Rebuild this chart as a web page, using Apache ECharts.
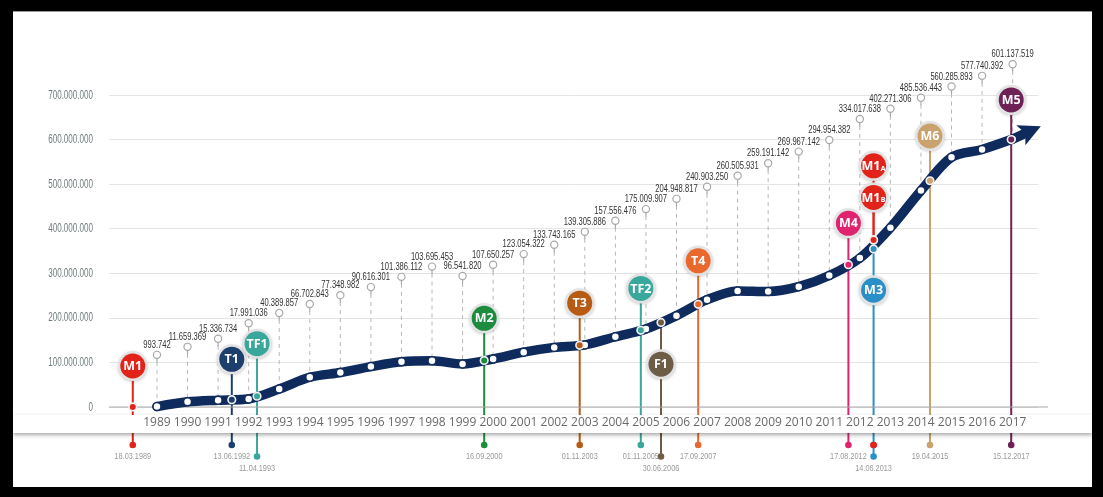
<!DOCTYPE html>
<html>
<head>
<meta charset="utf-8">
<script src="https://cdn.jsdelivr.net/npm/echarts@6/dist/echarts.min.js"></script>
<style>
  html, body { margin: 0; padding: 0; background: #000; }
  #panel { position: absolute; left: 13px; top: 11px; width: 1079px; height: 476px; background: #fff; border-top: 1px solid #9a9a9a; box-sizing: border-box; }
  #chart { position: absolute; left: 0; top: 0; width: 1103px; height: 497px; }
</style>
</head>
<body>
<div id="panel"></div>
<div id="chart"></div>
<script>
// Annual passengers carried, 1989-2017
const years = [1989, 1990, 1991, 1992, 1993, 1994, 1995, 1996, 1997, 1998,
  1999, 2000, 2001, 2002, 2003, 2004, 2005, 2006, 2007, 2008,
  2009, 2010, 2011, 2012, 2013, 2014, 2015, 2016, 2017];
const passengers = [993742, 11659369, 15336734, 17991036, 40389857, 66702843, 77348982, 90616301, 101386112, 103695453,
  96541820, 107650257, 123054322, 133743165, 139305886, 157556476, 175009907, 204948817, 240903250, 260505931,
  259191142, 269967142, 294954382, 334017638, 402271306, 485536443, 560285893, 577740392, 601137519];

// Line openings
const lineCodes = ['M1', 'T1', 'TF1', 'M2', 'T3', 'TF2', 'F1', 'T4', 'M4', 'M1B', 'M1A', 'M3', 'M6', 'M5'];
const openingDates = ['18.03.1989', '13.06.1992', '11.04.1993', '16.09.2000', '01.11.2003', '01.11.2005', '30.06.2006',
  '17.09.2007', '17.08.2012', '14.06.2013', '14.06.2013', '14.06.2013', '19.04.2015', '15.12.2017'];

// Value axis ticks
const yTicks = [0, 100000000, 200000000, 300000000, 400000000, 500000000, 600000000, 700000000];

// Layout: height (millions) of each value tag and of each line badge, and the row of each date under the axis
const tagLevels = [117, 135, 153, 188, 211, 231, 251, 269, 292, 315, 294, 319, 343, 364, 393, 418, 444, 467, 494, 519,
  547, 573, 599, 646, 669, 694, 719, 743, 769];
const badgeLevels = [92, 107, 142, 199, 233, 266, 96, 328, 412, 470, 541, 262, 608, 689];
const dateRows = [0, 0, 1, 0, 0, 0, 1, 0, 0, 0, 0, 1, 0, 0];

// Styles
const NAVY = '#0f2a5c';
const lineColors = ['#e2231a', '#1d3f6e', '#3aa79c', '#1d8c3e', '#b75b14', '#3aa79c', '#6e5d46', '#e8682e',
  '#e0236f', '#e2231a', '#e2231a', '#2a8fc6', '#c9a26e', '#6e2155'];
const SANS = "'Liberation Sans', Arial, sans-serif";

const fmt = v => String(v).replace(/\B(?=(\d{3})+(?!\d))/g, '.');

// Each year's total is plotted at the close of that year
const curve = years.map((y, i) => [y + 1, passengers[i]]);

function dateToT(s) {
  const [d, m, y] = s.split('.').map(Number);
  const start = Date.UTC(y, 0, 1), end = Date.UTC(y + 1, 0, 1);
  return y + (Date.UTC(y, m - 1, d) - start) / (end - start);
}
const openingT = openingDates.map(dateToT);

// Position of a date on the passenger line (straight between yearly totals)
function curveAt(t) {
  const pts = [[years[0], 0]].concat(curve);
  if (t <= pts[0][0]) return 0;
  for (let i = 1; i < pts.length; i++) {
    if (t <= pts[i][0]) {
      const f = (t - pts[i - 1][0]) / (pts[i][0] - pts[i - 1][0]);
      return pts[i - 1][1] + f * (pts[i][1] - pts[i - 1][1]);
    }
  }
  return pts[pts.length - 1][1];
}
const openingOnCurve = openingT.map(curveAt);

const X_MIN = 1988.43, X_MAX = 2018.83;

function eventGeometry(i, api) {
  const t = openingT[i];
  const pc = api.coord([t, openingOnCurve[i]]);
  const pb = api.coord([t, badgeLevels[i] * 1e6]);
  const base = api.coord([t, 0])[1];
  const above = badgeLevels[i] * 1e6 > openingOnCurve[i];
  // openings sharing a date are spread apart on the line
  let shift = 0, shared = false;
  const same = openingDates.map((d, j) => j).filter(j => openingDates[j] === openingDates[i]);
  if (same.length > 1) {
    const sides = same.map(j => badgeLevels[j] * 1e6 > openingOnCurve[j]);
    if (sides.some(s => s) && sides.some(s => !s)) { shift = above ? -4.5 : 4.5; shared = true; }
  }
  const dotY = base + (dateRows[i] ? 49.5 : 38);
  // the date is written once, under the lowest dot of its group
  const rowMax = Math.max.apply(null, same.map(j => dateRows[j]));
  const labelOwner = same.filter(j => dateRows[j] === rowMax)[0];
  return { x: pc[0], yc: pc[1] + shift, yb: pb[1], above, shared, dotY, showDate: labelOwner === i };
}

const chart = echarts.init(document.getElementById('chart'));

chart.setOption({
  animation: false,
  grid: { left: 109, right: 65, top: 95, bottom: 90, outerBoundsMode: 'none' },
  xAxis: {
    type: 'value', min: X_MIN, max: X_MAX, z: 6,
    axisLine: { show: false }, axisTick: { show: false }, splitLine: { show: false },
    axisLabel: {
      customValues: years.map(y => y + 1),
      formatter: v => String(Math.round(v) - 1),
      color: '#6a6a6a', fontFamily: "'Open Sans', sans-serif", fontSize: 12, margin: 10
    }
  },
  yAxis: {
    type: 'value', min: yTicks[0], max: yTicks[yTicks.length - 1], interval: yTicks[1] - yTicks[0],
    axisLine: { show: false }, axisTick: { show: false }, axisLabel: { show: false },
    splitLine: { lineStyle: { color: '#e4e4e4', width: 1 } }
  },
  series: [
    // condensed value-axis tick labels
    {
      type: 'custom', z: 1, silent: true,
      data: yTicks.map(v => [X_MIN, v]),
      encode: { x: 0, y: 1 },
      renderItem(params, api) {
        const p = api.coord([X_MIN, yTicks[params.dataIndex]]);
        return { type: 'text', x: p[0] - 16, y: p[1], scaleX: 0.62,
          style: { text: fmt(yTicks[params.dataIndex]), align: 'right', verticalAlign: 'middle',
            font: '13px ' + SANS, fill: '#6f7c7c' } };
      }
    },
    // value tags: pin, dashed drop line and figure for every year
    {
      type: 'custom', z: 1, silent: true,
      data: curve.map((p, i) => [p[0], p[1], tagLevels[i] * 1e6]),
      encode: { x: 0, y: 1 },
      renderItem(params, api) {
        const i = params.dataIndex;
        const p = api.coord([curve[i][0], passengers[i]]);
        const q = api.coord([curve[i][0], tagLevels[i] * 1e6]);
        return {
          type: 'group', children: [
            { type: 'line', shape: { x1: q[0], y1: q[1] + 7, x2: p[0], y2: p[1] },
              style: { stroke: '#b8b8b8', lineWidth: 1, lineDash: [4, 4] } },
            { type: 'line', shape: { x1: q[0], y1: q[1] + 3.5, x2: q[0], y2: q[1] + 7.5 },
              style: { stroke: '#a8a8a8', lineWidth: 1.2 } },
            { type: 'circle', shape: { cx: q[0], cy: q[1], r: 3.6 },
              style: { fill: '#fff', stroke: '#a8a8a8', lineWidth: 1.2 } },
            { type: 'text', x: q[0], y: q[1] - 4.5, scaleX: 0.76,
              style: { text: fmt(passengers[i]), align: 'center', verticalAlign: 'bottom',
                font: '10px ' + SANS, fill: '#333' } }
          ]
        };
      }
    },
    // opening lines (behind the band and the passenger line)
    {
      type: 'custom', z: 2, silent: true,
      data: openingT.map((t, i) => [t, badgeLevels[i] * 1e6]),
      encode: { x: 0, y: 1 },
      renderItem(params, api) {
        const i = params.dataIndex;
        const g = eventGeometry(i, api);
        const top = g.above ? g.yb : g.yc;
        const bottom = (g.shared && g.above) ? g.yc : g.dotY;
        return { type: 'line', shape: { x1: g.x, y1: top, x2: g.x, y2: bottom },
          style: { stroke: lineColors[i], lineWidth: 2 } };
      }
    },
    // year band and baseline
    {
      type: 'custom', z: 3, silent: true,
      data: [[X_MIN, 0]],
      encode: { x: 0, y: 1 },
      renderItem(params, api) {
        const cs = params.coordSys;
        const y0 = cs.y + cs.height;
        return {
          type: 'group', children: [
            { type: 'rect', shape: { x: 13, y: y0 + 8, width: 1079, height: 18 },
              style: { fill: '#fff', shadowColor: 'rgba(0,0,0,0.35)', shadowBlur: 4, shadowOffsetY: 2 } },
            { type: 'line', shape: { x1: cs.x, y1: y0, x2: cs.x + cs.width + 10, y2: y0 },
              style: { stroke: '#a9a9a9', lineWidth: 1.2 } }
          ]
        };
      }
    },
    // passenger line
    {
      type: 'line', z: 4, silent: true, data: curve, smooth: 0.3,
      symbol: 'circle', symbolSize: 8,
      lineStyle: { color: NAVY, width: 9.5, cap: 'round' },
      itemStyle: { color: '#fff', borderColor: NAVY, borderWidth: 1.5 }
    },
    // arrow head continuing the line
    {
      type: 'custom', z: 4, silent: true,
      data: [curve[curve.length - 1]],
      encode: { x: 0, y: 1 },
      renderItem(params, api) {
        const a = api.coord(curve[curve.length - 2]), b = api.coord(curve[curve.length - 1]);
        const ang = Math.atan2(b[1] - a[1], b[0] - a[0]) - 0.1;
        const dx = Math.cos(ang), dy = Math.sin(ang), nx = -dy, ny = dx;
        const P = (s, w) => [b[0] + dx * s + nx * w, b[1] + dy * s + ny * w];
        return {
          type: 'group', children: [
            { type: 'line', shape: { x1: b[0], y1: b[1], x2: P(15, 0)[0], y2: P(15, 0)[1] },
              style: { stroke: NAVY, lineWidth: 9.5 } },
            { type: 'polygon', shape: { points: [P(31, 0), P(9, -11), P(14, 0), P(9, 11)] },
              style: { fill: NAVY } }
          ]
        };
      }
    },
    // opening badges, dots and dates
    {
      type: 'custom', z: 5, silent: true,
      data: openingT.map((t, i) => [t, badgeLevels[i] * 1e6]),
      encode: { x: 0, y: 1 },
      renderItem(params, api) {
        const i = params.dataIndex;
        const g = eventGeometry(i, api);
        const col = lineColors[i];
        const m = lineCodes[i].match(/^(.*\d)([A-Z])$/);
        const text = m ? '{a|' + m[1] + '}{s|' + m[2] + '}' : '{a|' + lineCodes[i] + '}';
        const children = [
          { type: 'circle', shape: { cx: g.x, cy: g.yc, r: 3.8 }, style: { fill: col, stroke: '#f2f2f2', lineWidth: 1.6 } },
          { type: 'circle', shape: { cx: g.x, cy: g.yb, r: 15 },
            style: { fill: '#e3e3e3', shadowColor: 'rgba(0,0,0,0.18)', shadowBlur: 3, shadowOffsetY: 1 } },
          { type: 'circle', shape: { cx: g.x, cy: g.yb, r: 12.5 }, style: { fill: col } },
          { type: 'text', x: g.x, y: g.yb + 0.5,
            style: { text, align: 'center', verticalAlign: 'middle',
              rich: {
                a: { fontFamily: "'Open Sans', sans-serif", fontWeight: 'bold', fontSize: 12.5, fill: '#fff', color: '#fff' },
                s: { fontFamily: "'Open Sans', sans-serif", fontWeight: 'bold', fontSize: 7.5, fill: '#fff', color: '#fff', padding: [4, 0, 0, 0] }
              } } },
          { type: 'circle', shape: { cx: g.x, cy: g.dotY, r: 3.3 }, style: { fill: col } }
        ];
        if (g.showDate) {
          children.push({ type: 'text', x: g.x, y: g.dotY + 12, scaleX: 0.86,
            style: { text: openingDates[i], align: 'center', verticalAlign: 'middle',
              font: '8.5px ' + SANS, fill: '#9a9a9a' } });
        }
        return { type: 'group', children };
      }
    }
  ]
});
</script>
</body>
</html>
